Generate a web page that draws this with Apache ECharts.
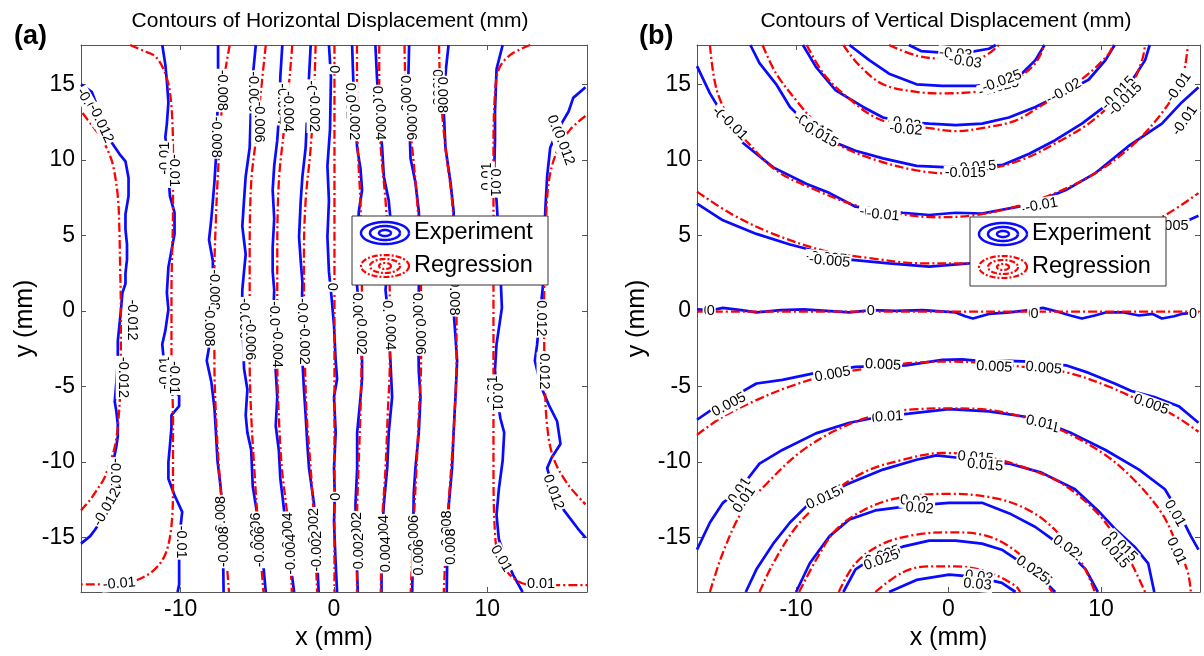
<!DOCTYPE html>
<html><head><meta charset="utf-8">
<script src="https://cdn.jsdelivr.net/npm/echarts@6/dist/echarts.min.js"></script>
<style>html,body{margin:0;padding:0;background:#fff}#c{width:1204px;height:656px}</style>
</head><body><div id="c"></div>
<script>
// ---------- tick values ----------
const X_TICKS = [-10, 0, 10];
const Y_TICKS = [-15, -10, -5, 0, 5, 10, 15];

// ---------- (a) Horizontal displacement: experiment (blue) ----------
const hExpM12 = [[-16.5,15.0],[-15.8,14.5],[-15.2,12.9],[-14.6,11.3],[-14.0,10.4],[-13.6,9.9],[-13.4,8.8],[-13.4,7.6],[-13.6,6.4],[-13.6,5.4],[-13.5,4.4],[-13.5,3.4],[-13.6,2.5],[-13.6,1.8],[-13.8,1.2],[-13.9,0],[-14.0,-1.0],[-14.1,-2.0],[-14.1,-3.3],[-14.2,-4.8],[-14.3,-6.0],[-14.2,-6.6],[-14.1,-7.5],[-14.1,-8.3],[-14.2,-9.0],[-14.4,-10.0],[-14.7,-10.3],[-14.3,-10.7],[-14.1,-11.2],[-14.5,-12.6],[-15.2,-13.9],[-15.6,-14.5],[-15.9,-14.9],[-16.5,-15.4]];
const hExpM10 = [[-11.2,17.6],[-11.0,16.3],[-10.9,15.2],[-10.8,13.8],[-10.9,12.4],[-11.0,11.5],[-10.9,10.7],[-10.8,9.0],[-10.7,7.6],[-10.4,6.5],[-10.4,5.1],[-10.6,4.0],[-10.8,2.9],[-10.9,1.2],[-10.8,0.1],[-11.0,-1.3],[-11.2,-2.2],[-11.1,-3.3],[-10.9,-4.4],[-10.6,-5.2],[-10.1,-5.6],[-10.1,-6.3],[-10.6,-6.9],[-10.6,-7.7],[-10.7,-8.9],[-10.8,-10.0],[-10.8,-11.1],[-10.4,-12.2],[-9.9,-13.3],[-10.0,-14.2],[-10.1,-15.5],[-10.1,-17.0],[-10.1,-18.1],[-10.2,-18.6]];
const hExpM08 = [[-7.56,17.6],[-7.56,15.5],[-7.6,13.2],[-7.65,11.6],[-7.7,10.1],[-7.8,8.5],[-8.0,6.1],[-8.15,4.7],[-7.9,3.3],[-7.9,1.9],[-8.0,0.3],[-8.1,-1.0],[-8.15,-2.4],[-8.3,-3.3],[-8.0,-4.7],[-7.8,-6.4],[-7.7,-8.05],[-7.6,-9.9],[-7.4,-11.6],[-7.3,-12.8],[-7.25,-15.0],[-7.2,-18.6]];
const hExpM06 = [[-5.1,17.6],[-5.3,15.5],[-5.4,14.0],[-5.45,12.4],[-5.5,10.8],[-5.76,8.9],[-5.87,7.3],[-5.98,5.6],[-5.76,3.75],[-5.87,2.6],[-5.98,1.4],[-6.0,0],[-5.95,-1.5],[-5.9,-2.7],[-5.87,-3.8],[-5.65,-5.2],[-5.76,-6.9],[-5.65,-8.05],[-5.4,-9.2],[-5.3,-11.6],[-5.0,-13.5],[-4.7,-15.8],[-4.45,-18.6]];
const hExpM04 = [[-3.37,17.6],[-3.5,15.5],[-3.55,13.5],[-3.7,11.3],[-3.9,9.6],[-4.0,8.0],[-3.9,6.1],[-4.0,4.2],[-4.0,2.6],[-3.9,1.4],[-3.95,0],[-3.9,-1.6],[-3.85,-2.8],[-3.8,-4.0],[-3.7,-5.7],[-3.8,-7.6],[-3.6,-9.2],[-3.5,-11.1],[-3.3,-12.8],[-3.0,-15.5],[-2.6,-18.6]];
const hExpM02 = [[-1.52,17.6],[-1.63,15.5],[-1.75,13.0],[-1.85,10.8],[-2.06,8.9],[-2.17,7.3],[-2.28,4.9],[-2.17,3.3],[-2.06,1.9],[-2.1,0.3],[-2.1,-1.5],[-2.06,-3.3],[-1.96,-5.2],[-1.85,-6.9],[-1.74,-8.8],[-1.63,-10.4],[-1.3,-12.8],[-1.15,-15.5],[-1.0,-18.6]];
const hExp00  = [[-0.33,17.6],[-0.2,15.5],[-0.26,12.0],[-0.43,9.6],[-0.33,7.3],[-0.43,4.9],[-0.33,2.6],[-0.15,0.8],[0,-0.97],[0.11,-3.3],[0.2,-4.5],[0,-5.7],[0.11,-8.05],[0,-10.4],[0.05,-12.2],[0,-14.0],[0.1,-16.5],[0.2,-18.6]];
const hExpP02 = [[1.18,17.6],[1.25,15.5],[1.35,13.0],[1.51,10.8],[1.73,9.4],[1.83,8.0],[1.62,6.6],[1.51,4.7],[1.4,2.8],[1.51,1.6],[1.65,0],[1.75,-1.6],[1.83,-3.3],[1.83,-4.5],[1.73,-5.7],[1.51,-8.05],[1.51,-10.4],[1.4,-12.8],[1.45,-15.5],[1.55,-18.6]];
const hExpP04 = [[2.7,17.6],[2.8,15.5],[2.95,13.0],[3.14,10.8],[3.25,8.9],[3.57,7.3],[3.68,6.1],[3.6,4.5],[3.5,3.0],[3.36,1.4],[3.5,0],[3.6,-1.5],[3.68,-3.3],[3.79,-5.7],[3.57,-8.05],[3.47,-10.4],[3.25,-12.8],[3.1,-15.5],[3.1,-18.6]];
const hExpP06 = [[4.9,17.6],[4.85,15.5],[4.9,13.0],[4.99,10.1],[5.31,8.5],[5.53,6.6],[5.6,5.0],[5.55,3.0],[5.53,1.4],[5.5,0],[5.5,-2.0],[5.53,-4.0],[5.64,-5.7],[5.53,-8.05],[5.31,-10.4],[5.2,-12.1],[5.15,-15.5],[5.1,-18.6]];
const hExpP08 = [[7.47,17.6],[7.3,16.0],[7.2,14.5],[7.16,13.2],[7.27,10.8],[7.6,8.5],[7.8,6.6],[7.85,4.5],[7.75,3.0],[7.7,1.4],[7.8,0],[7.9,-1.4],[8.03,-3.3],[7.92,-5.7],[7.8,-8.05],[7.7,-10.4],[7.49,-12.8],[7.4,-15.5],[7.35,-18.6]];
const hExpP10 = [[11.0,17.6],[10.6,16.0],[10.5,13.2],[10.5,11.3],[10.45,9.3],[10.6,7.3],[10.75,4.9],[10.85,2.6],[10.95,0.2],[10.6,-2.2],[10.5,-3.9],[10.6,-5.5],[10.85,-7.1],[11.1,-8.05],[11.0,-9.9],[10.75,-11.8],[10.6,-13.5],[10.75,-15.1],[11.2,-16.4],[11.7,-17.5],[12.3,-18.6]];
const hExpP12 = [[16.4,14.8],[15.6,14.1],[15.3,13.2],[14.6,12.0],[14.1,10.8],[13.9,8.9],[13.8,7.05],[13.7,4.7],[13.7,2.6],[13.6,1.4],[13.4,-0.5],[13.25,-2.2],[13.1,-3.3],[13.5,-5.0],[14.0,-6.2],[14.55,-7.3],[14.77,-8.8],[14.2,-9.7],[13.9,-10.4],[14.3,-11.8],[15.0,-13.2],[15.9,-14.4],[16.4,-15.0]];

// ---------- (a) Horizontal displacement: regression (red) ----------
const hRegM12 = [[-16.4,13.1],[-15.8,12.3],[-15.2,11.5],[-14.7,10.5],[-14.4,9.6],[-14.1,7.6],[-14.0,5.5],[-13.95,3.0],[-13.9,0],[-13.9,-3.0],[-13.95,-5.5],[-14.06,-7.2],[-14.2,-8.5],[-14.4,-9.4],[-14.7,-10.3],[-15.0,-11.1],[-15.5,-11.9],[-15.9,-12.5],[-16.5,-13.2]];
const hRegM10 = [[-13.3,17.6],[-12.4,17.2],[-11.6,16.8],[-10.9,15.4],[-10.6,13.5],[-10.5,10.4],[-10.5,6.8],[-10.6,1.2],[-10.6,-3.0],[-10.5,-7.2],[-10.5,-11.4],[-10.6,-14.2],[-11.0,-16.1],[-11.8,-17.2],[-13.1,-17.9],[-14.6,-18.1],[-16.5,-18.1]];
const hRegM08 = [[-6.8,17.6],[-7.2,15.1],[-7.4,12.0],[-7.6,8.5],[-7.7,6.1],[-7.8,2.6],[-7.8,0],[-7.8,-3.3],[-7.7,-6.9],[-7.5,-10.4],[-7.2,-14.0],[-6.85,-18.6]];
const hRegM06 = [[-4.45,17.6],[-4.78,14.4],[-5.1,11.3],[-5.4,8.5],[-5.5,3.75],[-5.5,0],[-5.5,-3.3],[-5.4,-6.9],[-5.2,-10.4],[-5.0,-13.5],[-4.6,-18.6]];
const hRegM04 = [[-2.72,17.6],[-2.93,15.1],[-3.26,12.0],[-3.6,8.5],[-3.7,3.75],[-3.7,0],[-3.7,-3.3],[-3.6,-6.9],[-3.4,-10.4],[-3.0,-14.0],[-2.75,-18.6]];
const hRegM02 = [[-1.2,17.6],[-1.3,14.4],[-1.52,10.8],[-1.85,7.3],[-1.96,3.75],[-1.96,0],[-1.9,-3.3],[-1.78,-6.9],[-1.52,-10.4],[-1.3,-14.0],[-1.1,-18.6]];
const hReg00  = [[0.03,17.6],[0.03,-18.6]];
const hRegP02 = [[1.5,17.6],[1.5,14.4],[1.55,10.8],[1.72,7.3],[1.8,3.75],[1.82,0],[1.8,-3.3],[1.72,-6.9],[1.6,-10.4],[1.5,-14.0],[1.5,-18.6]];
const hRegP04 = [[2.95,17.6],[2.95,14.4],[3.05,10.8],[3.36,7.3],[3.57,3.75],[3.64,0],[3.64,-3.3],[3.5,-6.9],[3.36,-10.4],[3.14,-14.0],[3.05,-18.6]];
const hRegP06 = [[4.6,17.6],[4.7,14.4],[5.1,10.8],[5.42,7.3],[5.64,3.75],[5.68,0],[5.68,-3.3],[5.53,-6.9],[5.38,-10.4],[5.2,-14.0],[5.0,-18.6]];
const hRegP08 = [[6.85,17.6],[6.95,14.4],[7.27,10.8],[7.7,7.3],[7.92,3.75],[7.99,0],[7.99,-3.3],[7.86,-6.9],[7.64,-10.4],[7.38,-14.0],[7.16,-18.6]];
const hRegP10 = [[12.8,17.6],[11.5,16.95],[10.75,16.0],[10.5,14.4],[10.4,10.8],[10.4,6.1],[10.4,0],[10.4,-5.7],[10.4,-10.4],[10.5,-14.7],[10.75,-16.3],[11.5,-17.5],[12.6,-18.1],[14.55,-18.15],[16.5,-18.15]];
const hRegP12 = [[16.4,12.9],[15.4,12.0],[14.55,10.6],[14.0,8.5],[13.8,4.9],[13.7,0],[13.75,-4.5],[13.9,-7.6],[14.3,-9.7],[15.2,-11.4],[16.4,-12.8]];

// ---------- (b) Vertical displacement: experiment (blue) ----------
const vExpM30 = [[-2.6,17.6],[-1.8,17.2],[-0.4,17.1],[1.2,17.1],[2.65,17.35],[3.1,17.6]];
const vExpM25 = [[-6.5,17.6],[-5.2,16.6],[-3.9,15.7],[-2.1,15.0],[-0.4,14.9],[1.8,14.9],[3.3,15.1],[4.8,15.7],[5.7,16.6],[6.3,17.6]];
const vExpM20 = [[-9.55,17.6],[-8.7,16.15],[-7.4,14.6],[-5.6,13.5],[-4.3,12.8],[-2.8,12.5],[-1.27,12.4],[0.47,12.3],[2.2,12.4],[3.96,12.8],[5.7,13.5],[7.5,14.4],[9.19,15.3],[10.3,16.6],[10.9,17.6]];
const vExpM15 = [[-13.0,17.6],[-12.4,16.4],[-11.3,15.0],[-10.4,13.5],[-9.2,12.3],[-7.8,11.3],[-6.1,10.6],[-4.3,10.1],[-2.1,9.6],[0.04,9.5],[1.8,9.6],[3.5,9.65],[5.3,10.4],[7.0,11.3],[8.75,12.4],[10.6,13.8],[12.2,15.5],[12.9,16.6],[13.2,17.6]];
const vExpM10 = [[-16.5,16.2],[-15.65,14.4],[-14.7,12.8],[-13.7,11.3],[-11.5,9.5],[-9.3,8.4],[-7.8,7.8],[-6.1,6.9],[-4.5,6.7],[-3.0,6.5],[-1.27,6.35],[0.47,6.5],[2.2,6.45],[4.6,6.9],[6.2,7.4],[7.7,8.0],[9.6,9.1],[11.8,10.9],[14.0,12.4],[15.3,13.8],[16.4,14.8]];
const vExpM05 = [[-16.5,7.1],[-14.8,6.0],[-12.6,5.1],[-10.4,4.4],[-8.5,3.9],[-6.5,3.4],[-3.9,3.15],[-1.27,2.93],[1.35,3.15],[4.0,3.4],[7.0,3.9],[10.0,4.4],[12.5,4.9],[14.2,5.3],[15.3,5.8],[16.4,6.3]];
const vExp00  = [[-16.5,0.1],[-15.5,0.05],[-14.8,0.2],[-13.6,0.05],[-12.6,-0.1],[-11.0,0.05],[-9.5,0.1],[-8.0,0.0],[-6.5,-0.1],[-5.0,0.05],[-3.5,0.0],[-1.7,0.05],[0.47,-0.1],[1.1,-0.35],[1.6,-0.5],[2.65,-0.2],[4.0,-0.1],[5.3,0.05],[6.2,0.2],[7.0,0.0],[8.0,-0.3],[8.75,-0.5],[9.6,-0.3],[10.3,-0.1],[11.5,-0.1],[12.5,-0.3],[13.4,-0.2],[14.0,-0.5],[14.8,-0.35],[15.3,-0.2],[16.4,-0.1]];
const vExpP05 = [[-16.5,-7.2],[-15.2,-6.3],[-14.0,-5.6],[-12.6,-4.8],[-10.9,-4.56],[-8.7,-4.1],[-6.1,-3.7],[-4.4,-3.65],[-2.8,-3.6],[-0.4,-3.24],[0.9,-3.2],[2.5,-3.35],[4.0,-3.3],[5.3,-3.35],[7.7,-3.6],[9.2,-4.1],[10.9,-4.8],[12.0,-5.3],[13.5,-5.7],[15.1,-6.3],[15.7,-6.8],[16.4,-7.4]];
const vExpP10 = [[-16.5,-15.8],[-15.65,-14.0],[-14.8,-12.7],[-13.7,-11.8],[-12.4,-10.1],[-10.9,-9.2],[-8.7,-8.1],[-6.5,-7.4],[-4.5,-7.0],[-2.6,-6.8],[0.04,-6.5],[2.65,-6.65],[5.05,-7.0],[6.6,-7.5],[8.1,-8.1],[10.3,-9.2],[12.5,-10.5],[14.2,-11.8],[15.2,-13.5],[15.9,-14.9],[16.4,-15.8]];
const vExpP15 = [[-13.3,-18.6],[-12.6,-17.1],[-11.5,-15.4],[-10.4,-14.0],[-9.3,-12.9],[-8.0,-12.1],[-6.5,-11.4],[-4.3,-10.5],[-2.1,-9.85],[-0.8,-9.56],[0.47,-9.7],[2.2,-9.9],[3.96,-10.1],[6.1,-10.7],[8.3,-11.8],[9.8,-13.2],[11.0,-14.5],[12.2,-15.6],[13.1,-16.7],[13.5,-18.6]];
const vExpP20 = [[-10.0,-18.6],[-9.1,-16.7],[-7.8,-14.9],[-6.5,-13.8],[-4.8,-13.2],[-2.5,-12.9],[0.04,-12.7],[2.2,-12.7],[4.0,-13.4],[5.7,-14.3],[6.8,-15.1],[8.0,-16.1],[9.0,-17.1],[9.8,-18.6]];
const vExpP25 = [[-6.9,-18.6],[-6.1,-17.1],[-4.6,-16.1],[-3.0,-15.6],[-1.27,-15.2],[0.47,-15.2],[2.2,-15.4],[3.5,-15.8],[5.0,-16.8],[6.2,-17.8],[7.0,-18.6]];
const vExpP30 = [[-3.9,-18.6],[-2.1,-17.8],[0.04,-17.45],[1.8,-17.6],[3.5,-18.0],[4.4,-18.6]];

// ---------- (b) Vertical displacement: regression (red) ----------
const vRegM30 = [[-3.9,17.6],[-2.1,16.9],[-0.4,16.7],[1.0,16.7],[2.2,16.8],[3.3,17.6]];
const vRegM25 = [[-6.9,17.6],[-5.9,16.3],[-4.3,15.0],[-2.1,14.5],[-0.4,14.4],[1.8,14.5],[3.2,14.8],[4.4,15.3],[5.7,16.4],[6.3,17.6]];
const vRegM20 = [[-9.3,17.6],[-8.2,15.7],[-6.7,14.2],[-4.8,12.8],[-3.0,12.3],[-1.27,12.1],[0.47,11.9],[2.2,12.1],[4.4,12.6],[6.1,13.6],[7.7,14.6],[9.19,15.7],[10.5,17.0],[10.8,17.6]];
const vRegM15 = [[-12.2,17.6],[-11.3,15.7],[-9.8,13.7],[-8.6,12.3],[-7.4,11.1],[-4.8,10.0],[-2.1,9.3],[0.04,9.1],[2.2,9.3],[4.8,10.0],[7.4,11.3],[9.2,12.4],[10.8,13.8],[12.0,15.0],[12.7,16.6],[12.9,17.6]];
const vRegM10 = [[-15.65,17.6],[-15.2,14.6],[-14.1,12.2],[-13.5,11.5],[-11.3,9.3],[-8.7,8.0],[-6.1,7.0],[-3.4,6.45],[-0.8,6.2],[1.8,6.35],[4.4,6.9],[7.0,7.8],[9.6,9.1],[12.0,10.9],[14.0,13.1],[15.3,15.3],[15.7,17.6]];
const vRegM05 = [[-16.5,7.9],[-14.3,6.45],[-11.5,5.1],[-8.2,4.0],[-5.2,3.5],[-1.7,3.15],[1.35,3.15],[5.0,3.5],[8.5,4.0],[11.5,5.0],[14.4,6.45],[16.4,7.8]];
const vReg00  = [[-16.5,-0.05],[16.5,-0.05]];
const vRegP05 = [[-16.5,-8.2],[-14.8,-7.0],[-12.6,-5.9],[-10.4,-5.0],[-7.8,-4.2],[-5.2,-3.8],[-2.6,-3.46],[0.04,-3.35],[2.65,-3.46],[5.7,-3.8],[7.9,-4.1],[10.5,-5.0],[12.5,-5.9],[14.6,-6.8],[16.4,-8.0]];
const vRegP10 = [[-15.65,-18.6],[-14.8,-16.0],[-13.5,-13.2],[-11.9,-11.4],[-9.8,-9.4],[-7.4,-7.9],[-4.8,-6.9],[-2.1,-6.5],[0.04,-6.45],[2.2,-6.5],[4.83,-7.0],[7.4,-7.9],[10.1,-9.4],[12.2,-11.2],[14.0,-13.4],[15.0,-15.5],[15.7,-17.3],[15.9,-18.6]];
const vRegP15 = [[-12.4,-18.6],[-11.5,-16.7],[-10.0,-14.3],[-8.2,-12.5],[-5.6,-10.7],[-3.0,-9.85],[-0.4,-9.4],[2.2,-9.6],[4.83,-10.3],[7.4,-11.4],[9.6,-13.2],[11.0,-15.0],[12.0,-16.7],[12.9,-18.6]];
const vRegP20 = [[-9.8,-18.6],[-8.7,-16.5],[-7.4,-14.5],[-5.6,-13.2],[-3.4,-12.4],[0.04,-12.1],[3.1,-12.4],[5.3,-13.2],[7.0,-14.5],[8.75,-16.7],[9.6,-18.6]];
const vRegP25 = [[-7.2,-18.6],[-6.1,-16.7],[-4.3,-15.4],[-2.1,-14.8],[0.04,-14.65],[2.2,-14.8],[4.0,-15.6],[5.7,-17.1],[6.8,-18.6]];
const vRegP30 = [[-4.8,-18.6],[-3.0,-17.3],[-1.27,-16.9],[0.47,-16.9],[2.65,-17.3],[4.4,-18.2],[4.7,-18.6]];

// ---------- contour labels [x, y, text, rotation] ----------
const hLabels = [
 [-15.9,13.5,'-0.012',-60],[-15.2,12.4,'-0.012',-65],[-13.2,-0.6,'-0.012',-90],[-13.75,-4.4,'-0.012',-90],[-14.3,-11.1,'-0.012',-90],[-14.8,-13.0,'-0.012',60],
 [-11.0,10.1,'-0.01',90],[-10.45,9.3,'-0.01',-90],[-11.0,-4.1,'-0.01',90],[-10.45,-4.4,'-0.01',-90],[-10.0,-15.3,'-0.01',-90],[-14.0,-18.05,'-0.01',5],
 [-7.28,14.6,'-0.008',-90],[-7.7,11.5,'-0.008',-90],[-7.8,1.4,'-0.008',-90],[-8.15,-1.0,'-0.008',-90],[-7.35,-13.6,'-0.008',90],[-7.15,-15.6,'-0.008',90],
 [-5.3,14.5,'-0.006',-90],[-4.9,12.5,'-0.006',-90],[-5.87,-0.5,'-0.006',-90],[-5.5,-1.9,'-0.006',-90],[-5.1,-14.7,'-0.006',90],[-4.8,-15.6,'-0.006',90],
 [-3.37,13.7,'-0.004',-90],[-3.0,13.2,'-0.004',-90],[-3.9,-0.7,'-0.004',-90],[-3.7,-2.4,'-0.004',-90],[-3.0,-14.7,'-0.004',90],[-2.8,-16.1,'-0.004',90],
 [-1.5,13.9,'-0.002',-90],[-1.3,13.2,'-0.002',-90],[-2.06,-0.5,'-0.002',-90],[-1.96,-2.2,'-0.002',-90],[-1.3,-14.4,'-0.002',90],[-1.1,-15.9,'-0.002',90],
 [0,16.0,'0',-90],[-0.1,1.6,'0',-90],[0,-12.3,'0',-90],
 [1.07,13.9,'0.002',-90],[1.29,12.5,'0.002',-90],[1.51,0,'0.002',-90],[1.73,-1.7,'0.002',-90],[1.51,-14.5,'0.002',90],[1.6,-15.9,'0.002',90],
 [2.81,13.7,'0.004',-90],[3.03,12.5,'0.004',-90],[3.47,-0.5,'0.004',-90],[3.68,-1.4,'0.004',-90],[3.25,-14.7,'0.004',90],[3.36,-16.1,'0.004',90],
 [4.66,14.4,'0.006',-90],[4.99,12.5,'0.006',-90],[5.42,0,'0.006',-90],[5.64,-1.7,'0.006',-90],[5.2,-14.7,'0.006',90],[5.53,-16.3,'0.006',90],
 [6.73,14.8,'0.008',-90],[7.05,14.3,'0.008',-90],[7.6,1.4,'0.008',-90],[7.8,0.9,'0.008',-90],[7.38,-14.4,'0.008',90],[7.6,-15.6,'0.008',90],
 [10.0,8.9,'0.01',90],[10.5,8.5,'0.01',-90],[10.4,-5.2,'0.01',90],[10.6,-5.7,'0.01',-90],[10.9,-16.4,'0.01',-60],[13.5,-18.05,'0.01',0],
 [14.55,11.8,'0.012',-70],[15.0,10.8,'0.012',-70],[13.5,-0.5,'0.012',-90],[13.7,-4.0,'0.012',-90],[14.3,-12.0,'0.012',-70]
];
const vLabels = [
 [0.47,17.0,'-0.03',-5],[1.1,16.5,'-0.03',-8],
 [3.3,14.8,'-0.025',15],[3.5,15.2,'-0.025',20],
 [-2.9,12.4,'-0.02',-10],[-2.8,12.0,'-0.02',-5],[7.45,14.4,'-0.02',25],[7.7,14.6,'-0.02',30],
 [-8.9,12.2,'-0.015',-30],[-8.5,11.7,'-0.015',-30],[1.78,9.5,'-0.015',5],[1.1,9.1,'-0.015',0],[11.15,14.4,'-0.015',45],[11.6,14.0,'-0.015',45],
 [-14.6,12.6,'-0.01',-45],[-14.1,12.2,'-0.01',-45],[-4.76,6.45,'-0.01',-8],[-4.3,6.35,'-0.01',-5],[5.9,6.9,'-0.01',10],[6.1,7.0,'-0.01',10],[15.1,14.8,'-0.01',55],[15.5,12.6,'-0.01',55],
 [-8.0,3.5,'-0.005',-5],[-7.8,3.3,'-0.005',-5],[14.4,5.6,'-0.005',0],
 [-15.8,0,'0',0],[-15.6,0,'0',0],[-5.1,0,'0',0],[5.5,-0.2,'0',0],[5.65,-0.2,'0',0],[16.05,-0.2,'0',0],
 [-14.4,-6.2,'0.005',28],[-7.6,-4.2,'0.005',10],[-4.3,-3.57,'0.005',-3],[3.0,-3.7,'0.005',-3],[6.25,-3.79,'0.005',-5],[13.3,-6.2,'0.005',-20],
 [-13.7,-11.9,'0.01',55],[-13.4,-12.5,'0.01',55],[-4.1,-7.1,'0.01',3],[-3.9,-7.0,'0.01',3],[6.35,-7.6,'0.01',-12],[6.0,-7.4,'0.01',-12],[14.85,-13.4,'0.01',-60],[14.95,-15.9,'0.01',-65],
 [-8.0,-12.3,'0.015',25],[-8.2,-12.4,'0.015',25],[1.78,-9.7,'0.015',-5],[2.4,-10.2,'0.015',-5],[11.4,-15.6,'0.015',-45],[10.9,-16.0,'0.015',-50],
 [-2.25,-12.6,'0.02',-5],[-1.9,-13.05,'0.02',-5],[7.9,-15.8,'0.02',-35],[7.7,-15.6,'0.02',-35],
 [-4.3,-16.2,'0.025',20],[-4.4,-16.5,'0.025',20],[5.7,-17.3,'0.025',-35],[5.5,-17.1,'0.025',-35],
 [2.0,-17.6,'0.03',-8],[1.9,-18.1,'0.03',-5]
];

const H_EXP = [hExpM12,hExpM10,hExpM08,hExpM06,hExpM04,hExpM02,hExp00,hExpP02,hExpP04,hExpP06,hExpP08,hExpP10,hExpP12];
const H_REG = [hRegM12,hRegM10,hRegM08,hRegM06,hRegM04,hRegM02,hReg00,hRegP02,hRegP04,hRegP06,hRegP08,hRegP10,hRegP12];
const V_EXP = [vExpM30,vExpM25,vExpM20,vExpM15,vExpM10,vExpM05,vExp00,vExpP05,vExpP10,vExpP15,vExpP20,vExpP25,vExpP30];
const V_REG = [vRegM30,vRegM25,vRegM20,vRegM15,vRegM10,vRegM05,vReg00,vRegP05,vRegP10,vRegP15,vRegP20,vRegP25,vRegP30];

// ---------- styling / layout ----------
const FONT = 'Liberation Sans, Arial, Helvetica, sans-serif';
const BLUE = '#0a0aff', RED = '#ff0000', FRAME = '#555';

function xAxisCfg(grid, pos, withLabel) {
  return {
    type: 'value', gridIndex: grid, position: pos, min: -16.5, max: 16.5,
    axisLine: { show: true, onZero: false, lineStyle: { color: FRAME, width: 1 } },
    axisTick: { show: true, inside: true, length: 5, customValues: X_TICKS, lineStyle: { color: FRAME } },
    axisLabel: { show: withLabel, customValues: X_TICKS, fontSize: 23, color: '#000', fontFamily: FONT, margin: 6 },
    splitLine: { show: false },
    name: withLabel ? 'x (mm)' : '', nameLocation: 'middle', nameGap: 34,
    nameTextStyle: { fontSize: 25, color: '#000', fontFamily: FONT }
  };
}
function yAxisCfg(grid, pos, withLabel, gap) {
  return {
    type: 'value', gridIndex: grid, position: pos, min: -18.6, max: 17.6,
    axisLine: { show: true, onZero: false, lineStyle: { color: FRAME, width: 1 } },
    axisTick: { show: true, inside: true, length: 5, customValues: Y_TICKS, lineStyle: { color: FRAME } },
    axisLabel: { show: withLabel, customValues: Y_TICKS, fontSize: 23, color: '#000', fontFamily: FONT, margin: 6 },
    splitLine: { show: false },
    name: withLabel ? 'y (mm)' : '', nameLocation: 'middle', nameGap: gap, nameRotate: 90,
    nameTextStyle: { fontSize: 25, color: '#000', fontFamily: FONT }
  };
}

const series = [];
function addLines(list, xi, yi, kind) {
  list.forEach(d => series.push({
    type: 'line', xAxisIndex: xi, yAxisIndex: yi, data: d,
    showSymbol: false, symbol: 'none', silent: true, animation: false,
    smooth: kind === 'reg' ? 0.35 : false, z: kind === 'reg' ? 3 : 2,
    lineStyle: kind === 'reg'
      ? { color: RED, width: 2.3, type: [9, 3, 2, 3] }
      : { color: BLUE, width: 2.7 }
  }));
}
addLines(H_EXP, 0, 0, 'exp');
addLines(H_REG, 0, 0, 'reg');
addLines(V_EXP, 2, 2, 'exp');
addLines(V_REG, 2, 2, 'reg');

function labelSeries(list, xi, yi) {
  return {
    type: 'scatter', xAxisIndex: xi, yAxisIndex: yi, symbol: 'circle', symbolSize: 0.01, silent: true, animation: false, z: 5,
    itemStyle: { color: '#000', opacity: 1 },
    data: list.map(l => ({ value: [l[0], l[1]], label: { formatter: l[2], rotate: l[3] } })),
    label: { show: true, position: 'inside', fontSize: 14.5, color: '#000', opacity: 1, fontFamily: FONT,
             textBorderWidth: 0, textShadowBlur: 0, backgroundColor: '#fff', padding: [0, 1] }
  };
}
series.push(labelSeries(hLabels, 0, 0));
series.push(labelSeries(vLabels, 2, 2));

function ellipse(cx, cy, rx, ry) {
  const p = [];
  for (let i = 0; i <= 60; i++) { const a = i / 60 * Math.PI * 2; p.push([cx + rx * Math.cos(a), cy + ry * Math.sin(a)]); }
  return p;
}
function legendGroup(x, y) {
  const cx = x + 33, cy1 = y + 17, cy2 = y + 50;
  const els = [{ type: 'rect', shape: { x: x, y: y, width: 196, height: 69 }, style: { fill: '#fff', stroke: '#333', lineWidth: 1 }, z: 100 }];
  [[24, 11], [15, 7], [6, 3]].forEach(r => {
    els.push({ type: 'polyline', shape: { points: ellipse(cx, cy1, r[0], r[1]) }, style: { stroke: BLUE, lineWidth: 2.5, fill: null }, z: 101 });
    els.push({ type: 'polyline', shape: { points: ellipse(cx, cy2, r[0], r[1]) }, style: { stroke: RED, lineWidth: 2.2, fill: null, lineDash: [6, 2, 2, 2] }, z: 101 });
  });
  els.push({ type: 'text', x: x + 62, y: cy1, style: { text: 'Experiment', fontSize: 23.5, fontFamily: FONT, fill: '#000', align: 'left', verticalAlign: 'middle' }, z: 102 });
  els.push({ type: 'text', x: x + 62, y: cy2, style: { text: 'Regression', fontSize: 23.5, fontFamily: FONT, fill: '#000', align: 'left', verticalAlign: 'middle' }, z: 102 });
  return els;
}

const graphic = [
  { type: 'text', x: 330, y: 21, style: { text: 'Contours of Horizontal Displacement (mm)', fontSize: 21, fontFamily: FONT, fill: '#000', align: 'center', verticalAlign: 'middle' }, z: 100 },
  { type: 'text', x: 946, y: 21, style: { text: 'Contours of Vertical Displacement (mm)', fontSize: 21, fontFamily: FONT, fill: '#000', align: 'center', verticalAlign: 'middle' }, z: 100 },
  { type: 'text', x: 14, y: 37, style: { text: '(a)', fontSize: 27, fontWeight: 'bold', fontFamily: FONT, fill: '#000', align: 'left', verticalAlign: 'middle' }, z: 100 },
  { type: 'text', x: 639, y: 37, style: { text: '(b)', fontSize: 27, fontWeight: 'bold', fontFamily: FONT, fill: '#000', align: 'left', verticalAlign: 'middle' }, z: 100 }
].concat(legendGroup(352, 216)).concat(legendGroup(970, 217));

const chart = echarts.init(document.getElementById('c'), null, { renderer: 'canvas' });
chart.setOption({
  animation: false,
  backgroundColor: '#fff',
  grid: [
    { left: 81, top: 45, width: 506, height: 548 },
    { left: 697, top: 45, width: 503, height: 548 }
  ],
  xAxis: [xAxisCfg(0, 'bottom', true), xAxisCfg(0, 'top', false), xAxisCfg(1, 'bottom', true), xAxisCfg(1, 'top', false)],
  yAxis: [yAxisCfg(0, 'left', true, 43), yAxisCfg(0, 'right', false, 0), yAxisCfg(1, 'left', true, 47), yAxisCfg(1, 'right', false, 0)],
  series: series,
  graphic: graphic
});
</script>
</body></html>
